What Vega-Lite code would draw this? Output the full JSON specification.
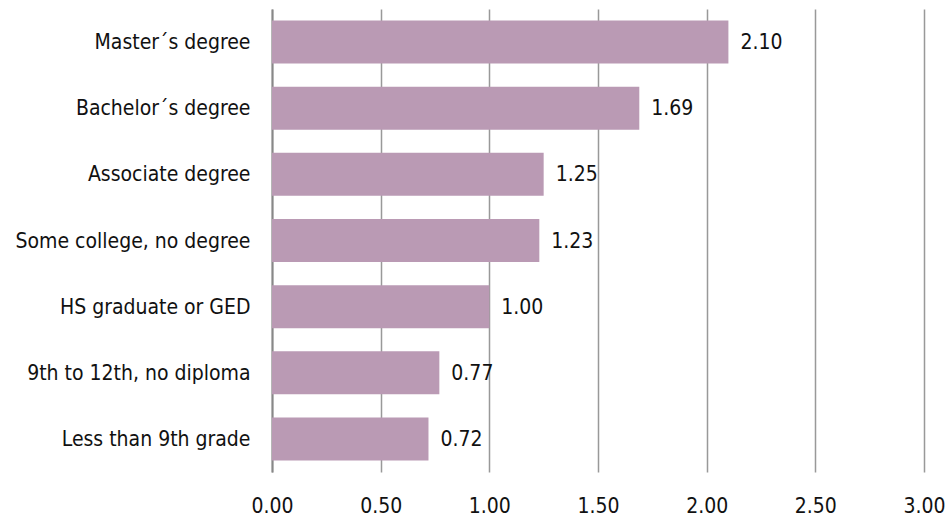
{
  "$schema": "https://vega.github.io/schema/vega-lite/v6.json",
  "autosize": {"type": "none"},
  "padding": {"left": 272, "top": 9, "right": 26, "bottom": 48},
  "width": 652,
  "height": 463,
  "background": "white",
  "config": {
    "view": {"stroke": null},
    "font": "'DejaVu Sans Condensed', 'Liberation Sans Narrow', sans-serif"
  },
  "data": {
    "values": [
      {"level": "Master´s degree", "value": 2.10},
      {"level": "Bachelor´s degree", "value": 1.69},
      {"level": "Associate degree", "value": 1.25},
      {"level": "Some college, no degree", "value": 1.23},
      {"level": "HS graduate or GED", "value": 1.00},
      {"level": "9th to 12th, no diploma", "value": 0.77},
      {"level": "Less than 9th grade", "value": 0.72}
    ]
  },
  "encoding": {
    "y": {
      "field": "level", "type": "nominal", "sort": null,
      "scale": {"paddingInner": 0.35, "paddingOuter": 0.175},
      "axis": {
        "title": null, "ticks": false, "grid": false,
        "domainColor": "#888888", "domainWidth": 2,
        "labelFont": "'DejaVu Sans Condensed', 'Liberation Sans Narrow', sans-serif", "labelFontSize": 21,
        "labelColor": "#111111", "labelPadding": 22, "labelLimit": 300, "labelBaseline": "middle", "labelOffset": 1
      }
    },
    "x": {
      "field": "value", "type": "quantitative",
      "scale": {"domain": [0, 3]},
      "axis": {
        "title": null, "values": [0, 0.5, 1, 1.5, 2, 2.5, 3], "format": ".2f",
        "domain": false, "ticks": false, "grid": true,
        "gridColor": "#999999", "gridWidth": 1.5,
        "labelFont": "'DejaVu Sans Condensed', 'Liberation Sans Narrow', sans-serif", "labelFontSize": 21,
        "labelColor": "#111111", "labelPadding": 23, "labelFlush": false
      }
    }
  },
  "layer": [
    {"mark": {"type": "bar", "color": "#BA9AB4"}},
    {
      "mark": {"type": "text", "align": "left", "baseline": "middle", "dx": 12, "dy": 1, "fontSize": 21, "color": "#111111", "font": "'DejaVu Sans Condensed', 'Liberation Sans Narrow', sans-serif"},
      "encoding": {"text": {"field": "value", "type": "quantitative", "format": ".2f"}}
    }
  ]
}
